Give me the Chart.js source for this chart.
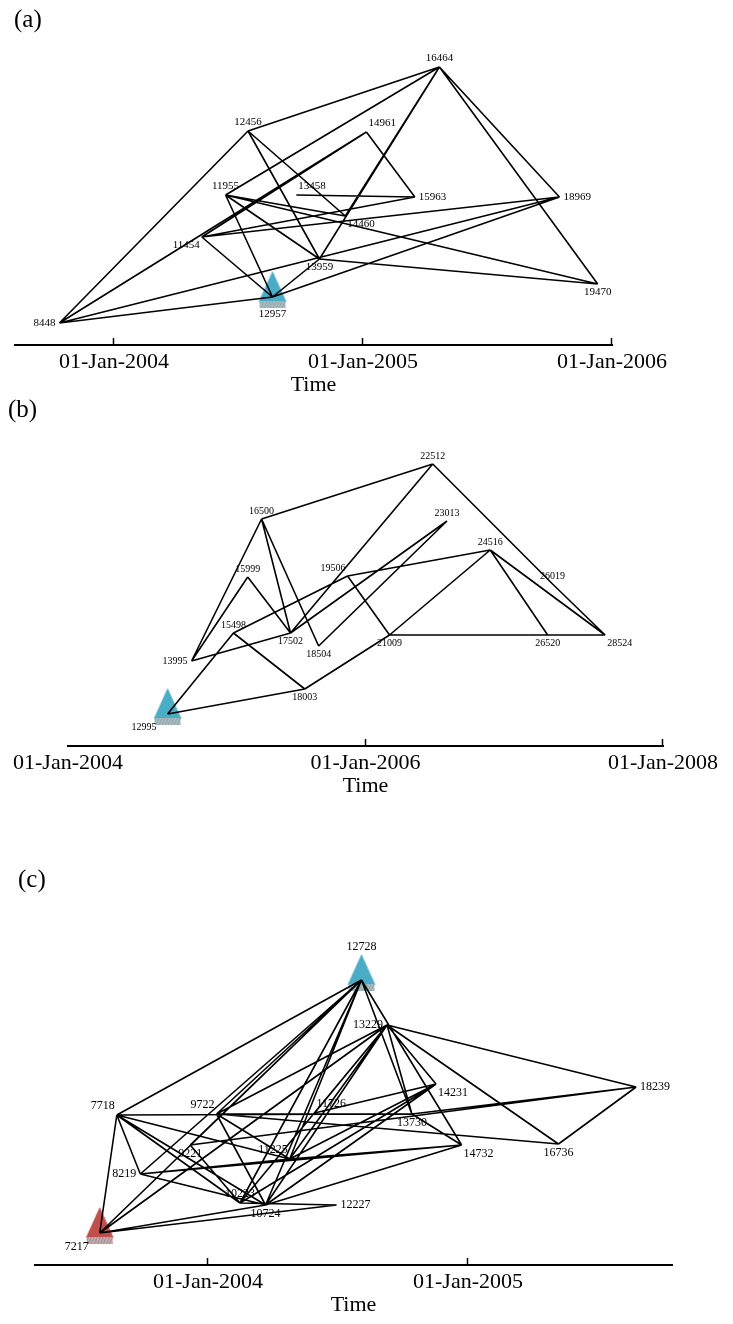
<!DOCTYPE html>
<html>
<head>
<meta charset="utf-8">
<script src="https://cdn.jsdelivr.net/npm/chart.js@4.4.0/dist/chart.umd.min.js"></script>
<style>
  body { margin: 0; background: #fff; width: 733px; height: 1324px; position: relative; overflow: hidden;
         font-family: "Liberation Serif", "Times New Roman", serif; }
  .panel { position: absolute; left: 0; width: 733px; }
  .tag { position: absolute; font-size: 25px; line-height: 1; color: #000; }
</style>
</head>
<body>
<div class="panel" style="top:0;height:400px"><canvas id="chartA"></canvas></div>
<div class="panel" style="top:400px;height:401px"><canvas id="chartB"></canvas></div>
<div class="panel" style="top:820px;height:500px"><canvas id="chartC"></canvas></div>
<div class="tag" style="left:14px;top:6px">(a)</div>
<div class="tag" style="left:8px;top:396px">(b)</div>
<div class="tag" style="left:18px;top:866px">(c)</div>

<script>
// ---- panel (a) ----
const nodesA = ['8448', '11454', '11955', '12456', '12957', '13458', '13959', '14460', '14961', '15963', '16464', '18969', '19470'];
const datesA = ['2003-10-13', '2004-05-09', '2004-06-13', '2004-07-16', '2004-08-21', '2004-09-25', '2004-10-29',
                '2004-12-06', '2005-01-06', '2005-03-18', '2005-04-23', '2005-10-16', '2005-12-11'];
const levelsA = [22, 108, 150, 214, 48, 150, 86, 129, 213, 148, 278, 148, 61];
const sidesA = ['w', 'sw', 'n', 'n', 's', 'ne', 's', 'se', 'ne', 'e', 'n', 'e', 's'];
const edgesA = [
  ['8448', '12456'], ['8448', '14961'], ['8448', '18969'], ['8448', '12957'],
  ['12456', '16464'], ['12456', '13959'], ['12456', '14460'],
  ['11955', '16464'], ['11955', '12957'], ['11955', '13959'], ['11955', '14460'], ['11955', '19470'],
  ['11454', '14961'], ['11454', '15963'], ['11454', '18969'], ['11454', '12957'],
  ['12957', '13959'], ['12957', '18969'], ['13458', '15963'],
  ['13959', '16464'], ['14460', '16464'], ['13959', '19470'], ['14961', '15963'],
  ['16464', '18969'], ['16464', '19470']
];
const marksA = ['12957'];
const markColorsA = ['blue'];
const tickYearsA = [2004, 2005, 2006];

// ---- panel (b) ----
const nodesB = ['12995', '13995', '15498', '15999', '16500', '17502', '18003', '18504', '19506', '21009',
                '22512', '23013', '24516', '26019', '26520', '28524'];
const datesB = ['2004-09-02', '2004-10-31', '2005-02-11', '2005-03-18', '2005-04-21', '2005-07-01', '2005-08-05',
                '2005-09-08', '2005-11-18', '2006-03-01', '2006-06-15', '2006-07-20', '2006-11-03', '2007-04-05',
                '2007-03-24', '2007-08-12'];
const levelsB = [32, 85, 113, 169, 227, 113, 57, 100, 170, 111, 282, 225, 196, 162, 111, 111];
const sidesB = ['sw', 'w', 'n', 'n', 'n', 's', 's', 's', 'nw', 's', 'n', 'n', 'n', 'n', 's', 'se'];
const edgesB = [
  ['16500', '22512'], ['16500', '13995'], ['16500', '17502'], ['16500', '18504'],
  ['13995', '15999'], ['15999', '17502'], ['13995', '17502'],
  ['12995', '15498'], ['15498', '18003'], ['15498', '19506'],
  ['17502', '22512'], ['17502', '23013'], ['18504', '23013'],
  ['19506', '21009'], ['19506', '24516'], ['21009', '24516'], ['21009', '28524'],
  ['24516', '26520'], ['24516', '28524'], ['22512', '26019'], ['26019', '28524'],
  ['18003', '21009'], ['12995', '18003']
];
const marksB = ['12995'];
const markColorsB = ['blue'];
const tickYearsB = [2004, 2006, 2008];

// ---- panel (c) ----
const nodesC = ['7217', '7718', '8219', '9221', '9722', '10223', '10724', '11225', '11726', '12227', '12728',
                '13229', '13730', '14231', '14732', '16736', '18239'];
const datesC = ['2003-08-02', '2003-08-26', '2003-09-28', '2003-12-07', '2004-01-13', '2004-02-15', '2004-03-22',
                '2004-04-25', '2004-05-30', '2004-06-30', '2004-08-04', '2004-09-09', '2004-10-14', '2004-11-17',
                '2004-12-23', '2005-05-08', '2005-08-25'];
const levelsC = [32, 150, 91, 120, 151, 62, 60, 106, 152, 60, 285, 240, 151, 181, 120, 121, 178];
const sidesC = ['sw', 'nw', 'w', 's', 'nw', 'n', 's', 'nw', 'ne', 'e', 'n', 'w', 's', 'se', 'se', 's', 'e'];
const edgesC = [
  ['7217', '7718'], ['7217', '12728'], ['7217', '13229'], ['7217', '10724'], ['7217', '12227'],
  ['7718', '12728'], ['7718', '8219'], ['7718', '10223'], ['7718', '10724'], ['7718', '11225'], ['7718', '13730'],
  ['8219', '12728'], ['8219', '10724'], ['8219', '11225'], ['8219', '14732'],
  ['9221', '12728'], ['9221', '10223'], ['9221', '18239'],
  ['9722', '12728'], ['9722', '13229'], ['9722', '13730'], ['9722', '10724'], ['9722', '11225'], ['9722', '16736'],
  ['10223', '12227'], ['10223', '12728'], ['10223', '13229'], ['10223', '14231'],
  ['10724', '12728'], ['10724', '13229'], ['10724', '14231'], ['10724', '14732'],
  ['11225', '12728'], ['11225', '13229'], ['11225', '14231'], ['11225', '14732'],
  ['11726', '13229'], ['11726', '14231'],
  ['12728', '13730'], ['12728', '14732'],
  ['13229', '13730'], ['13229', '14231'], ['13229', '16736'], ['13229', '18239'],
  ['13730', '18239'], ['13730', '14732'], ['16736', '18239']
];
const marksC = ['7217', '12728'];
const markColorsC = ['red', 'blue'];
const tickYearsC = [2004, 2005];

const FONT = '"Liberation Serif", "Times New Roman", serif';

function yearOf(d) {
  const [y, m, day] = d.split('-').map(Number);
  const start = Date.UTC(y, 0, 1);
  const end = Date.UTC(y + 1, 0, 1);
  return y + (Date.UTC(y, m - 1, day) - start) / (end - start);
}

// triangle marker with a hatched grey foot
function makeMarker(fill, band) {
  const c = document.createElement('canvas');
  c.width = 32; c.height = 68;
  const g = c.getContext('2d');
  g.fillStyle = fill;
  g.beginPath();
  g.moveTo(16, 8); g.lineTo(30, 39); g.lineTo(2, 39);
  g.closePath(); g.fill();
  g.fillStyle = band;
  g.fillRect(3, 38, 26, 7);
  g.strokeStyle = 'rgba(255,255,255,0.45)';
  g.lineWidth = 1;
  for (let i = 3; i < 32; i += 3) {
    g.beginPath(); g.moveTo(i, 38); g.lineTo(i - 3, 45); g.stroke();
  }
  return c;
}
const markers = {
  blue: makeMarker('#4bacc6', '#8fa7ae'),
  red: makeMarker('#c0504d', '#ad9292')
};

const labelOffsets = {
  n: [0, -3, 'center', 'bottom'], s: [0, 3, 'center', 'top'],
  e: [4, 0, 'left', 'middle'], w: [-4, 0, 'right', 'middle'],
  ne: [2, -3, 'left', 'bottom'], nw: [-2, -3, 'right', 'bottom'],
  se: [2, 3, 'left', 'top'], sw: [-2, 3, 'right', 'top']
};
const markOffsets = {
  n: [0, -27, 'center', 'bottom'], s: [0, 12, 'center', 'top'],
  w: [-15, 0, 'right', 'middle'], sw: [-11, 8, 'right', 'top']
};

const nodeLabels = {
  id: 'nodeLabels',
  afterDatasetsDraw(chart, args, opts) {
    const meta = chart.getDatasetMeta(1);
    const ctx = chart.ctx;
    ctx.save();
    ctx.font = opts.size + 'px ' + FONT;
    ctx.fillStyle = '#000';
    meta.data.forEach((pt, i) => {
      const isMark = opts.marks.includes(opts.names[i]);
      const side = opts.sides[i];
      const o = (isMark && markOffsets[side]) || labelOffsets[side];
      ctx.textAlign = o[2];
      ctx.textBaseline = o[3];
      ctx.fillText(opts.names[i], pt.x + o[0], pt.y + o[1]);
    });
    ctx.restore();
  }
};

const upTicks = {
  id: 'upTicks',
  afterDraw(chart) {
    const sx = chart.scales.x;
    const b = chart.chartArea.bottom;
    const ctx = chart.ctx;
    ctx.save();
    ctx.strokeStyle = '#000';
    ctx.lineWidth = 1.5;
    sx.ticks.forEach(t => {
      if (t.value <= sx.min) return;
      const px = Math.round(sx.getPixelForValue(t.value)) - 0.5;
      ctx.beginPath(); ctx.moveTo(px, b); ctx.lineTo(px, b - 7); ctx.stroke();
    });
    ctx.restore();
  }
};

function drawPanel(id, p) {
  const pos = {};
  p.nodes.forEach((n, i) => { pos[n] = { x: yearOf(p.dates[i]), y: p.levels[i] }; });

  const edgeData = [];
  p.edges.forEach(([a, b]) => {
    edgeData.push({ ...pos[a] }, { ...pos[b] }, { x: NaN, y: NaN });
  });
  const nodeData = p.nodes.map(n => ({ ...pos[n] }));
  const markData = p.marks.map(n => ({ ...pos[n] }));

  new Chart(document.getElementById(id), {
    type: 'scatter',
    data: {
      datasets: [
        { type: 'line', data: edgeData, borderColor: '#000', borderWidth: 1.6, pointRadius: 0,
          fill: false, spanGaps: false, tension: 0, order: 1, clip: false },
        { data: nodeData, pointRadius: 0, order: 0, clip: false },
        { data: markData, pointStyle: p.markColors.map(c => markers[c]), pointRadius: 12,
          order: 2, clip: false }
      ]
    },
    options: {
      responsive: true,
      maintainAspectRatio: false,
      animation: false,
      events: [],
      layout: { padding: { top: 40, left: p.padLeft, right: p.padRight, bottom: 0 } },
      scales: {
        x: {
          type: 'linear',
          min: p.xmin,
          max: p.xmax,
          afterBuildTicks: s => { s.ticks = p.tickYears.map(v => ({ value: v })); },
          afterFit: s => { s.height = 55; },
          grid: { display: false, drawTicks: false },
          border: { display: true, color: '#000', width: 2 },
          ticks: { autoSkip: false, maxRotation: 0, padding: 4, color: '#000',
                   font: { family: FONT, size: 22 }, callback: v => '01-Jan-' + v },
          title: { display: true, text: 'Time', color: '#000', font: { family: FONT, size: 22 },
                   padding: { top: 0, bottom: 2 } }
        },
        y: { display: false, min: 0, max: p.ymax }
      },
      plugins: {
        legend: { display: false },
        tooltip: { enabled: false },
        nodeLabels: { names: p.nodes, sides: p.sides, marks: p.marks, size: p.labelSize }
      }
    },
    plugins: [nodeLabels, upTicks]
  });
}

drawPanel('chartA', {
  nodes: nodesA, dates: datesA, levels: levelsA, sides: sidesA, edges: edgesA,
  marks: marksA, markColors: markColorsA, tickYears: tickYearsA,
  xmin: 2004 - 99 / 249, xmax: 2006, ymax: 305, padLeft: 15, padRight: 121, labelSize: 11
});
drawPanel('chartB', {
  nodes: nodesB, dates: datesB, levels: levelsB, sides: sidesB, edges: edgesB,
  marks: marksB, markColors: markColorsB, tickYears: tickYearsB,
  xmin: 2004, xmax: 2008, ymax: 306, padLeft: 68, padRight: 70, labelSize: 10
});
drawPanel('chartC', {
  nodes: nodesC, dates: datesC, levels: levelsC, sides: sidesC, edges: edgesC,
  marks: marksC, markColors: markColorsC, tickYears: tickYearsC,
  xmin: 2004 - 173 / 260, xmax: 2005 + 204 / 260, ymax: 405, padLeft: 35, padRight: 61, labelSize: 12
});
</script>
</body>
</html>
